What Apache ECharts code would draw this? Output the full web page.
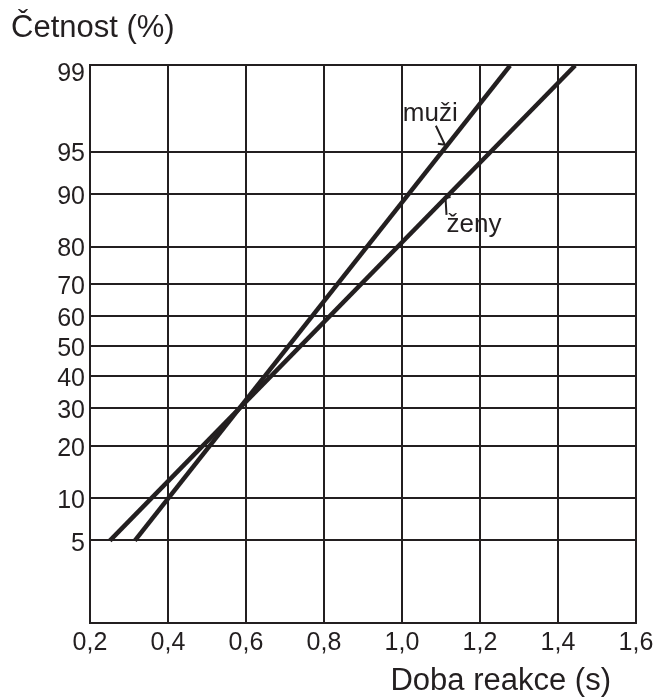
<!DOCTYPE html>
<html>
<head>
<meta charset="utf-8">
<script src="https://cdn.jsdelivr.net/npm/echarts@6/dist/echarts.min.js"></script>
<style>
  html, body { margin: 0; padding: 0; background: #ffffff; }
  #chart { width: 659px; height: 698px; }
</style>
</head>
<body>
<div id="chart"></div>
<script>
// Reaction time (s) against cumulative frequency on a normal probability scale
const xTicks = [0.2, 0.4, 0.6, 0.8, 1.0, 1.2, 1.4, 1.6];
const yTickPct = [5, 10, 20, 30, 40, 50, 60, 70, 80, 90, 95, 99];

// muži (men): end points of the fitted line
const muziReakce = [0.315, 1.277];
const muziCetnost = [5, 99.1];

// ženy (women): end points of the fitted line
const zenyReakce = [0.251, 1.444];
const zenyCetnost = [5, 99.1];

const INK = '#231f20';
const FONT = '"Liberation Sans", Arial, sans-serif';

// Inverse of the standard normal CDF (Acklam's approximation)
function probit(pct) {
  const p = pct / 100;
  const a = [-3.969683028665376e+01, 2.209460984245205e+02, -2.759285104469687e+02,
             1.383577518672690e+02, -3.066479806614716e+01, 2.506628277459239e+00];
  const b = [-5.447609879822406e+01, 1.615858368580409e+02, -1.556989798598866e+02,
             6.680131188771972e+01, -1.328068155288572e+01];
  const c = [-7.784894002430293e-03, -3.223964580411365e-01, -2.400758277161838e+00,
             -2.549671492555069e+00, 4.374664141464968e+00, 2.938163982698783e+00];
  const d = [7.784695709041462e-03, 3.224671290700398e-01, 2.445134137142996e+00,
             3.754408661907416e+00];
  const pLow = 0.02425, pHigh = 1 - pLow;
  let q, r;
  if (p < pLow) {
    q = Math.sqrt(-2 * Math.log(p));
    return (((((c[0]*q+c[1])*q+c[2])*q+c[3])*q+c[4])*q+c[5]) /
           ((((d[0]*q+d[1])*q+d[2])*q+d[3])*q+1);
  }
  if (p <= pHigh) {
    q = p - 0.5; r = q * q;
    return (((((a[0]*r+a[1])*r+a[2])*r+a[3])*r+a[4])*r+a[5])*q /
           (((((b[0]*r+b[1])*r+b[2])*r+b[3])*r+b[4])*r+1);
  }
  q = Math.sqrt(-2 * Math.log(1 - p));
  return -(((((c[0]*q+c[1])*q+c[2])*q+c[3])*q+c[4])*q+c[5]) /
          ((((d[0]*q+d[1])*q+d[2])*q+d[3])*q+1);
}

const yTickZ = yTickPct.map(probit);
function pctLabel(z) {
  let best = 0;
  yTickZ.forEach((v, i) => { if (Math.abs(v - z) < Math.abs(yTickZ[best] - z)) best = i; });
  return String(yTickPct[best]);
}
function toPairs(xs, ps) { return xs.map((x, i) => [x, probit(ps[i])]); }

const muziData = toPairs(muziReakce, muziCetnost);
const zenyData = toPairs(zenyReakce, zenyCetnost);

const chart = echarts.init(document.getElementById('chart'), null, { renderer: 'canvas' });

chart.setOption({
  animation: false,
  backgroundColor: '#ffffff',
  grid: {
    left: 90, right: 23, top: 65, bottom: 75,
    show: true, borderColor: INK, borderWidth: 2, backgroundColor: 'transparent'
  },
  xAxis: {
    type: 'value',
    min: xTicks[0], max: xTicks[xTicks.length - 1], interval: 0.2,
    axisLine: { show: false },
    axisTick: { show: false },
    splitLine: { show: true, lineStyle: { color: INK, width: 2 } },
    axisLabel: {
      color: INK, fontFamily: FONT, fontSize: 25, margin: 8,
      formatter: v => v.toFixed(1).replace('.', ',')
    }
  },
  yAxis: {
    type: 'value',
    min: -2.34, max: 2.37,
    axisLine: { show: false },
    axisTick: { show: false },
    splitLine: { show: false },
    axisLabel: {
      customValues: yTickZ,
      color: INK, fontFamily: FONT, fontSize: 25, margin: 5,
      verticalAlign: 'top', lineHeight: 7,
      formatter: v => pctLabel(v)
    }
  },
  series: [
    {
      // horizontal rulings of the probability scale
      type: 'line', data: [], silent: true,
      markLine: {
        silent: true, symbol: 'none', label: { show: false },
        lineStyle: { color: INK, width: 2, type: 'solid' },
        data: yTickZ.filter((z, i) => yTickPct[i] < 99).map(z => ({ yAxis: z }))
      }
    },
    {
      name: 'muži', type: 'line', data: muziData, symbol: 'none',
      lineStyle: { color: INK, width: 4.5, cap: 'butt' }, z: 5
    },
    {
      name: 'ženy', type: 'line', data: zenyData, symbol: 'none',
      lineStyle: { color: INK, width: 4.5, cap: 'butt' }, z: 5
    }
  ]
});

// Labels with leader lines pointing to each line
function pointOn(data, z) {
  const [a, b] = data;
  const t = (z - a[1]) / (b[1] - a[1]);
  return chart.convertToPixel({ gridIndex: 0 }, [a[0] + t * (b[0] - a[0]), z]);
}
const tipM = pointOn(muziData, probit(95.35));
const tipZ = pointOn(zenyData, probit(89.4));

chart.setOption({
  graphic: [
    { type: 'text', left: 11, top: 13,
      style: { text: 'Četnost (%)', fill: INK, font: '31px ' + FONT } },
    { type: 'text', right: 48, top: 666,
      style: { text: 'Doba reakce (s)', fill: INK, font: '31px ' + FONT } },
    { type: 'text', x: tipM[0] - 43, y: tipM[1] - 20,
      style: { text: 'muži', fill: INK, font: '26px ' + FONT, textVerticalAlign: 'bottom' } },
    { type: 'polyline', shape: { points: [[tipM[0] - 10, tipM[1] - 21], [tipM[0] - 1, tipM[1] - 2], [tipM[0] - 8, tipM[1] - 3]] },
      style: { stroke: INK, lineWidth: 2, fill: null } },
    { type: 'text', x: tipZ[0] + 1, y: tipZ[1] + 40,
      style: { text: 'ženy', fill: INK, font: '26px ' + FONT, textVerticalAlign: 'bottom' } },
    { type: 'polyline', shape: { points: [[tipZ[0] + 5, tipZ[1] - 1], [tipZ[0], tipZ[1]], [tipZ[0] + 1, tipZ[1] + 17]] },
      style: { stroke: INK, lineWidth: 2, fill: null } }
  ]
});
</script>
</body>
</html>
